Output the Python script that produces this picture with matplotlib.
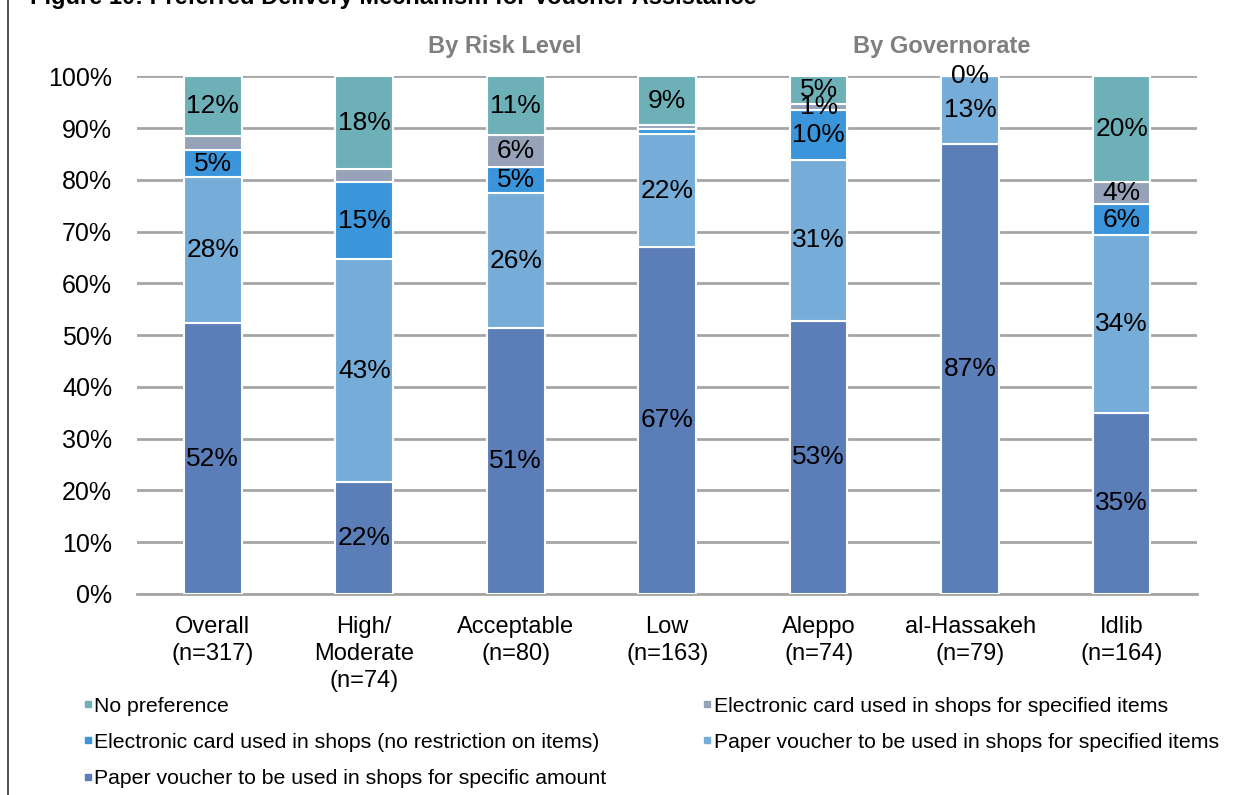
import numpy as np
import matplotlib
matplotlib.use("Agg")
import matplotlib.pyplot as plt
from matplotlib.lines import Line2D

plt.rcParams['font.family'] = ['Liberation Sans', 'DejaVu Sans']

# dane (procenty, kazdy slupek sumuje sie do 100)
categories = ['Overall\n(n=317)', 'High/\nModerate\n(n=74)', 'Acceptable\n(n=80)', 'Low\n(n=163)',
              'Aleppo\n(n=74)', 'al-Hassakeh\n(n=79)', 'Idlib\n(n=164)']
paper_amount = [52.3, 21.6, 51.4, 67.0, 52.8, 87.0, 35.0]
paper_items = [28.2, 43.1, 26.0, 21.8, 31.0, 13.0, 34.3]
ecard_open = [5.3, 14.8, 5.0, 1.0, 9.7, 0.0, 6.0]
ecard_items = [2.6, 2.5, 6.2, 0.8, 1.2, 0.0, 4.3]
no_pref = [11.6, 18.0, 11.4, 9.4, 5.3, 0.0, 20.4]

# ktore segmenty maja etykiete
show_paper_amount = [1, 1, 1, 1, 1, 1, 1]
show_paper_items = [1, 1, 1, 1, 1, 1, 1]
show_ecard_open = [1, 1, 1, 0, 1, 0, 1]
show_ecard_items = [0, 0, 1, 0, 1, 0, 1]
show_no_pref = [1, 1, 1, 1, 1, 1, 1]

series = [
    ('Paper voucher to be used in shops for specific amount', paper_amount, show_paper_amount, '#5B7DB8'),
    ('Paper voucher to be used in shops for specified items', paper_items, show_paper_items, '#76ADD8'),
    ('Electronic card used in shops (no restriction on items)', ecard_open, show_ecard_open, '#3A95DA'),
    ('Electronic card used in shops for specified items', ecard_items, show_ecard_items, '#95A2B8'),
    ('No preference', no_pref, show_no_pref, '#6EB0B8'),
]

fig = plt.figure(figsize=(12.46, 7.95), dpi=100)
ax = fig.add_axes([0.11, 0.253, 0.851, 0.651])

x = np.arange(len(categories))
bottom = np.zeros(len(categories))
colors = {}
for name, vals, show, col in series:
    vals = np.array(vals, dtype=float)
    ax.bar(x, vals, 0.38, bottom=bottom, color=col, edgecolor='white', linewidth=1.5, zorder=3)
    for i in range(len(x)):
        if show[i]:
            ax.text(x[i], bottom[i] + vals[i] / 2, "%.0f%%" % vals[i], ha='center', va='center',
                    fontsize=19, color='black', zorder=4)
    bottom += vals
    colors[name] = col

ax.set_xlim(-0.5, 6.5)
ax.set_ylim(0, 100)
ax.set_yticks(np.arange(0, 101, 10))
ax.set_yticklabels(["%d%%" % v for v in range(0, 101, 10)], fontsize=18)
ax.set_xticks(x)
ax.set_xticklabels(categories, fontsize=17, linespacing=1.3)
ax.tick_params(axis='y', length=0, pad=18)
ax.tick_params(axis='x', length=0, pad=16)
ax.grid(axis='y', color='#A6A6A6', linewidth=2, zorder=0)
ax.set_axisbelow(True)
for s in ['top', 'left', 'right']:
    ax.spines[s].set_visible(False)
ax.spines['bottom'].set_color('#A6A6A6')
ax.spines['bottom'].set_linewidth(2)

ax.text(1.93, 105.8, 'By Risk Level', ha='center', va='center', fontsize=17,
        fontweight='bold', color='#7F7F7F', clip_on=False)
ax.text(4.81, 105.8, 'By Governorate', ha='center', va='center', fontsize=17,
        fontweight='bold', color='#7F7F7F', clip_on=False)

# tytul obciety u gory (tak jak na oryginale)
fig.text(0.024, 1 - 4 / 795, 'Figure 10: Preferred Delivery Mechanism for Voucher Assistance',
         ha='left', va='baseline', fontsize=17, fontweight='bold', color='black')
# ramka po lewej
fig.add_artist(Line2D([8 / 1246, 8 / 1246], [0, 1], color='#333333', linewidth=1.2))

# legenda - kolejnosc kolumnami
order = ['No preference', 'Electronic card used in shops (no restriction on items)',
         'Paper voucher to be used in shops for specific amount',
         'Electronic card used in shops for specified items',
         'Paper voucher to be used in shops for specified items']
handles = [Line2D([], [], linestyle='none', marker='s', markersize=5, color=colors[n]) for n in order]
fig.legend(handles, order, loc='upper left', bbox_to_anchor=(0.061, 1 - 688 / 795), ncol=2,
           frameon=False, fontsize=15.3, handlelength=0.3, handletextpad=0.15,
           columnspacing=4.6, labelspacing=0.82, borderaxespad=0)

fig.savefig('out.png', dpi=100)
